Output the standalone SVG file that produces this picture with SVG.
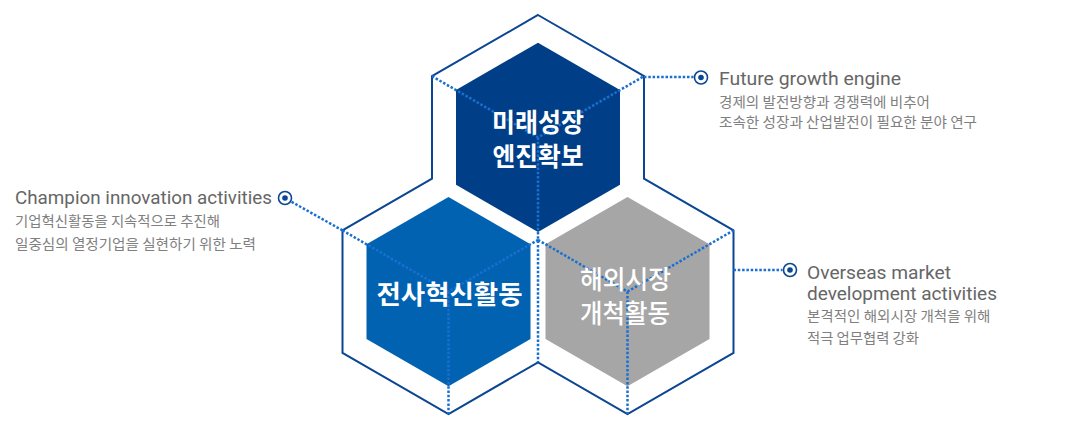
<svg xmlns="http://www.w3.org/2000/svg" width="1077" height="430" viewBox="0 0 1077 430">
<style>
.outline{fill:#ffffff;stroke:#0b4693;stroke-width:2;stroke-linejoin:miter}
.dot{fill:none;stroke:#1a6fd0;stroke-width:2.5;stroke-dasharray:2.5 1.8}
.pin{fill:#ffffff;stroke:#0b4693;stroke-width:1.6}
.pind{fill:#0b4693}
.lbl{font-family:"Noto Sans CJK KR","Noto Sans",sans-serif;font-size:26px;font-weight:700;fill:#ffffff;text-anchor:middle}
.lbl2{font-weight:500}
.head{font-family:Roboto,"Liberation Sans",sans-serif;font-size:19px;fill:#666666}
.desc{font-family:"Noto Sans CJK KR","Noto Sans",sans-serif;font-size:14px;fill:#808080}
</style>
<rect width="1077" height="430" fill="#ffffff"/>
<g id="frame">
<path class="outline" d="M538,15 L644,76.2 L644,178.7 L733.5,230.4 L733.5,352.8 L627.5,414 L538,362.3 L448.5,414 L342.5,352.8 L342.5,230.4 L432,178.7 L432,76.2 Z"/>
</g>
<g id="node-future">
<polygon fill="#003f87" points="538,42.7 620,90.05 620,184.75 538,232.1 456,184.75 456,90.05"/>
</g>
<g id="node-innovation">
<polygon fill="#0062b1" points="448.5,196.9 530.5,244.25 530.5,338.95 448.5,386.3 366.5,338.95 366.5,244.25"/>
</g>
<g id="node-overseas">
<polygon fill="#a6a6a6" points="627.5,196.9 709.5,244.25 709.5,338.95 627.5,386.3 545.5,338.95 545.5,244.25"/>
</g>
<g id="connectors">
<path class="dot" d="M432,76.2 L538,137.4 L644,76.2 M538,137.4 L538,362.3"/>
<path class="dot" d="M342.5,230.4 L448.5,291.6 L538,239.9 M448.5,291.6 L448.5,414"/>
<path class="dot" d="M538,239.9 L627.5,291.6 L733.5,230.4 M627.5,291.6 L627.5,414"/>
<path class="dot" d="M644,77 L693.5,77"/>
<path class="dot" d="M342.5,230.4 L291,201.5"/>
<path class="dot" d="M733.5,270 L782.5,270"/>
<circle class="pin" cx="701" cy="77.5" r="6.5"/><circle class="pind" cx="701" cy="77.5" r="2.8"/>
<circle class="pin" cx="285" cy="198" r="6.5"/><circle class="pind" cx="285" cy="198" r="2.8"/>
<circle class="pin" cx="790" cy="270" r="6.5"/><circle class="pind" cx="790" cy="270" r="2.8"/>
</g>
<g id="labels">
<text class="lbl" x="538" y="132" textLength="92" lengthAdjust="spacingAndGlyphs">미래성장</text>
<text class="lbl" x="538" y="165.5" textLength="91" lengthAdjust="spacingAndGlyphs">엔진확보</text>
<text class="lbl" x="449.5" y="304" textLength="146" lengthAdjust="spacingAndGlyphs">전사혁신활동</text>
<text class="lbl lbl2" x="625.5" y="288.5" textLength="91" lengthAdjust="spacingAndGlyphs">해외시장</text>
<text class="lbl lbl2" x="625" y="322.5" textLength="90" lengthAdjust="spacingAndGlyphs">개척활동</text>
</g>
<g id="text-future">
<text class="head" x="719" y="85" textLength="182" lengthAdjust="spacingAndGlyphs">Future growth engine</text>
<text class="desc" x="719" y="106.5" textLength="211" lengthAdjust="spacingAndGlyphs">경제의 발전방향과 경쟁력에 비추어</text>
<text class="desc" x="719" y="126.5" textLength="258" lengthAdjust="spacingAndGlyphs">조속한 성장과 산업발전이 필요한 분야 연구</text>
</g>
<g id="text-innovation">
<text class="head" x="15" y="204" textLength="257" lengthAdjust="spacingAndGlyphs">Champion innovation activities</text>
<text class="desc" x="15" y="226" textLength="205" lengthAdjust="spacingAndGlyphs">기업혁신활동을 지속적으로 추진해</text>
<text class="desc" x="15" y="249" textLength="241" lengthAdjust="spacingAndGlyphs">일중심의 열정기업을 실현하기 위한 노력</text>
</g>
<g id="text-overseas">
<text class="head" x="807" y="278.5" textLength="144" lengthAdjust="spacingAndGlyphs">Overseas market</text>
<text class="head" x="807" y="299.5" textLength="190" lengthAdjust="spacingAndGlyphs">development activities</text>
<text class="desc" x="807" y="320.5" textLength="183.5" lengthAdjust="spacingAndGlyphs">본격적인 해외시장 개척을 위해</text>
<text class="desc" x="807" y="343" textLength="112" lengthAdjust="spacingAndGlyphs">적극 업무협력 강화</text>
</g>
</svg>
